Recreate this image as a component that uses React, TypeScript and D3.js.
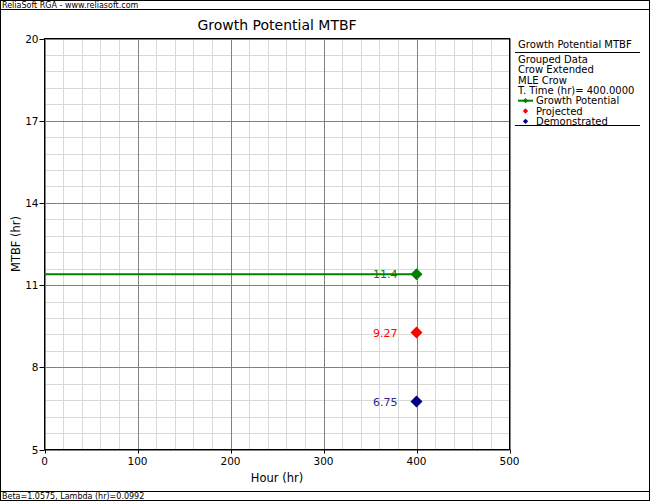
import React from "react";
import * as d3 from "d3";

const xTicks = [0, 100, 200, 300, 400, 500];
const yTicks = [5, 8, 11, 14, 17, 20];
const seriesNames = ["Growth Potential", "Projected", "Demonstrated"];
const seriesTime = [400, 400, 400];
const seriesValues = [11.4, 9.27, 6.75];
const seriesLabels = ["11.4", "9.27", "6.75"];
const seriesColors = ["#008000", "#ff0000", "#000080"];
const labelColors = ["#008000", "#ff0000", "#2a2a9a"];
const legendLines = ["Grouped Data", "Crow Extended", "MLE Crow", "T. Time (hr)= 400.0000"];

const W = 650, H = 501;
const L = 44.5, R = 509.5, T = 38.5, B = 449.5;
const FONT = "'DejaVu Sans', Verdana, sans-serif";

export default function App() {
  const x = d3.scaleLinear().domain([0, 500]).range([L, R]);
  const y = d3.scaleLinear().domain([5, 20]).range([B, T]);
  const xMinor = d3.range(0, 501, 20);
  const yMinor = d3.range(5, 20.001, 0.6);
  const diamond = d3.symbol().type(d3.symbolSquare).size(72)();
  const smallDiamond = d3.symbol().type(d3.symbolSquare).size(14)();
  const lineGen = d3.line<[number, number]>().x(d => x(d[0])).y(d => y(d[1]));
  const gpLine = lineGen([[0, seriesValues[0]], [seriesTime[0], seriesValues[0]]]);

  return (
    <svg width={W} height={H} style={{ position: "absolute", left: 0, top: 0, fontFamily: FONT }}>
      <rect x={0} y={0} width={W} height={H} fill="#fff" />
      <rect x={0.5} y={0.5} width={W - 1} height={H - 1} fill="none" stroke="#000" />
      <line x1={0} x2={W} y1={9.5} y2={9.5} stroke="#000" />
      <line x1={0} x2={W} y1={491.5} y2={491.5} stroke="#000" />
      <text x={2} y={8} fontSize={8} fill="#000">ReliaSoft RGA - www.reliasoft.com</text>
      <text x={2} y={499} fontSize={8} fill="#000">Beta=1.0575, Lambda (hr)=0.0992</text>

      <text x={277} y={30} fontSize={14} textAnchor="middle" fill="#000">Growth Potential MTBF</text>

      {/* minor grid */}
      {xMinor.map((v, i) => (
        <line key={"xm" + i} x1={Math.round(x(v)) + 0.5} x2={Math.round(x(v)) + 0.5} y1={T} y2={B} stroke="#d8d8d8" />
      ))}
      {yMinor.map((v, i) => (
        <line key={"ym" + i} x1={L} x2={R} y1={Math.round(y(v)) + 0.5} y2={Math.round(y(v)) + 0.5} stroke="#d8d8d8" />
      ))}
      {/* major grid */}
      {xTicks.map((v, i) => (
        <line key={"xg" + i} x1={Math.round(x(v)) + 0.5} x2={Math.round(x(v)) + 0.5} y1={T} y2={B} stroke="#808080" />
      ))}
      {yTicks.map((v, i) => (
        <line key={"yg" + i} x1={L} x2={R} y1={Math.round(y(v)) + 0.5} y2={Math.round(y(v)) + 0.5} stroke="#808080" />
      ))}
      <rect x={L} y={T} width={R - L} height={B - T} fill="none" stroke="#000" />

      {/* ticks */}
      {yTicks.map((v, i) => (
        <g key={"yt" + i}>
          <line x1={L - 5} x2={L} y1={Math.round(y(v)) + 0.5} y2={Math.round(y(v)) + 0.5} stroke="#000" />
          <text x={L - 6} y={y(v) + 4} fontSize={10.5} textAnchor="end" fill="#000">{v}</text>
        </g>
      ))}
      {xTicks.map((v, i) => (
        <g key={"xt" + i}>
          <line x1={Math.round(x(v)) + 0.5} x2={Math.round(x(v)) + 0.5} y1={B} y2={B + 4} stroke="#000" />
          <text x={x(v)} y={B + 15} fontSize={10.5} textAnchor="middle" fill="#000">{v}</text>
        </g>
      ))}
      <text x={277} y={482} fontSize={11.5} textAnchor="middle" fill="#000">Hour (hr)</text>
      <text transform={`translate(20,${(T + B) / 2}) rotate(-90)`} fontSize={11.5} textAnchor="middle" fill="#000">MTBF (hr)</text>

      {/* growth potential line */}
      <path d={gpLine || ""} stroke={seriesColors[0]} strokeWidth={2} fill="none" />
      {seriesValues.map((v, i) => (
        <g key={"pt" + i}>
          <path d={diamond || ""} transform={`translate(${x(seriesTime[i])},${y(v)}) rotate(45)`} fill={seriesColors[i]} />
          <text x={x(seriesTime[i]) - 19} y={y(v) + 4} fontSize={11} textAnchor="end" fill={labelColors[i]}>{seriesLabels[i]}</text>
        </g>
      ))}

      {/* legend */}
      <text x={518} y={48} fontSize={10} fill="#000">Growth Potential MTBF</text>
      <line x1={515} x2={640} y1={52.5} y2={52.5} stroke="#000" />
      {legendLines.map((s, i) => (
        <text key={"ll" + i} x={518} y={63 + i * 10.3} fontSize={10} fill="#000">{s}</text>
      ))}
      {seriesNames.map((s, i) => {
        const yy = 104.2 + i * 10.3 - 3.5;
        return (
          <g key={"ls" + i}>
            {i === 0 && (
              <line x1={518} x2={533} y1={yy} y2={yy} stroke={seriesColors[0]} strokeWidth={2} />
            )}
            <path d={smallDiamond || ""} transform={`translate(525.5,${yy}) rotate(45)`} fill={seriesColors[i]} />
            <text x={536} y={104.2 + i * 10.3} fontSize={10} fill="#000">{s}</text>
          </g>
        );
      })}
      <line x1={515} x2={640} y1={125.5} y2={125.5} stroke="#000" />
    </svg>
  );
}
